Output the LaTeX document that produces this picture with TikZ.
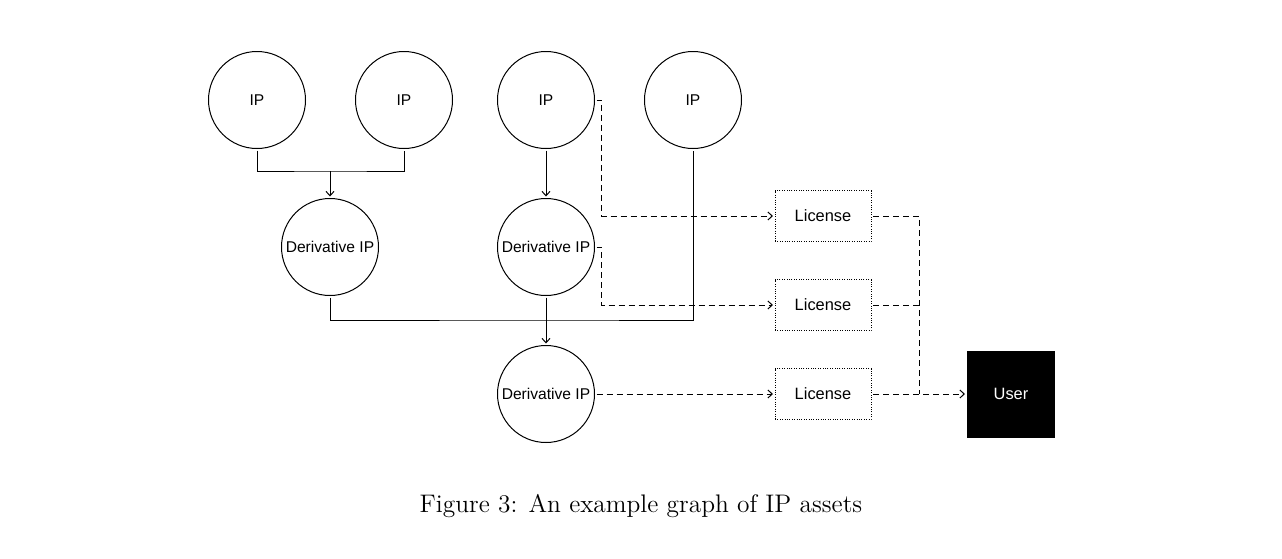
\documentclass[tikz,border=0pt]{standalone}
\usepackage{fontspec}
\newfontfamily\nodefont{Liberation Sans}
\usetikzlibrary{arrows.meta}
\begin{document}
\begin{tikzpicture}[x=0.5pt,y=-0.5pt,
  line width=0.5pt,
  ipnode/.style={circle,draw,minimum size=48.5pt,inner sep=0pt,outer sep=1pt,font=\nodefont\fontsize{7.8}{10}\selectfont},
  licnode/.style={draw,dash pattern=on 0.5pt off 0.7pt,minimum width=48pt,minimum height=25.5pt,inner sep=0pt,outer sep=1pt,font=\nodefont\fontsize{8.2}{10}\selectfont},
  usernode/.style={fill=black,text=white,minimum width=44pt,minimum height=43.5pt,inner sep=0pt,outer sep=1pt,font=\nodefont\fontsize{8.2}{10}\selectfont},
  arr/.style={-{Straight Barb[length=2.2pt,width=4pt,line width=0.5pt]}},
  dsh/.style={dash pattern=on 3pt off 2pt}
]
\useasboundingbox (0,0) rectangle (1282,558);
\node[ipnode] (ip1) at (257,100) {IP};
\node[ipnode] (ip2) at (404,100) {IP};
\node[ipnode] (ip3) at (546,100) {IP};
\node[ipnode] (ip4) at (693,100) {IP};
\node[ipnode] (dip1) at (330,247) {Derivative IP};
\node[ipnode] (dip2) at (546,247) {Derivative IP};
\node[ipnode] (dip3) at (546,394) {Derivative IP};
\node[licnode] (lic1) at (823,216) {License};
\node[licnode] (lic2) at (823,305) {License};
\node[licnode] (lic3) at (823,394) {License};
\node[usernode] (user) at (1011,394) {User};
\coordinate (m1) at (330,171);
\coordinate (m2) at (546,320);
\coordinate (j) at (919,394);
% solid connectors
\draw (ip1.south) |- (m1) -| (ip2.south);
\draw[arr] (m1) -- (dip1.north);
\draw[arr] (ip3.south) -- (dip2.north);
\draw (dip1.south) |- (m2) -| (ip4.south);
\draw (dip2.south) -- (m2);
\draw[arr] (m2) -- (dip3.north);
% dashed connectors
\draw[dsh,arr] (ip3.east) -- ++(5,0) |- (lic1.west);
\draw[dsh,arr] (dip2.east) -- ++(5,0) |- (lic2.west);
\draw[dsh,arr] (dip3.east) -- (lic3.west);
\draw[dsh] (lic1.east) -| (j);
\draw[dsh] (lic2.east) -- (lic2.east -| j);
\draw[dsh,arr] (lic3.east) -- (user.west);
% caption
\node[font=\fontsize{12.7}{15}\selectfont] (cap) at (641,506) {Figure 3: An example graph of IP assets};
\end{tikzpicture}
\end{document}
